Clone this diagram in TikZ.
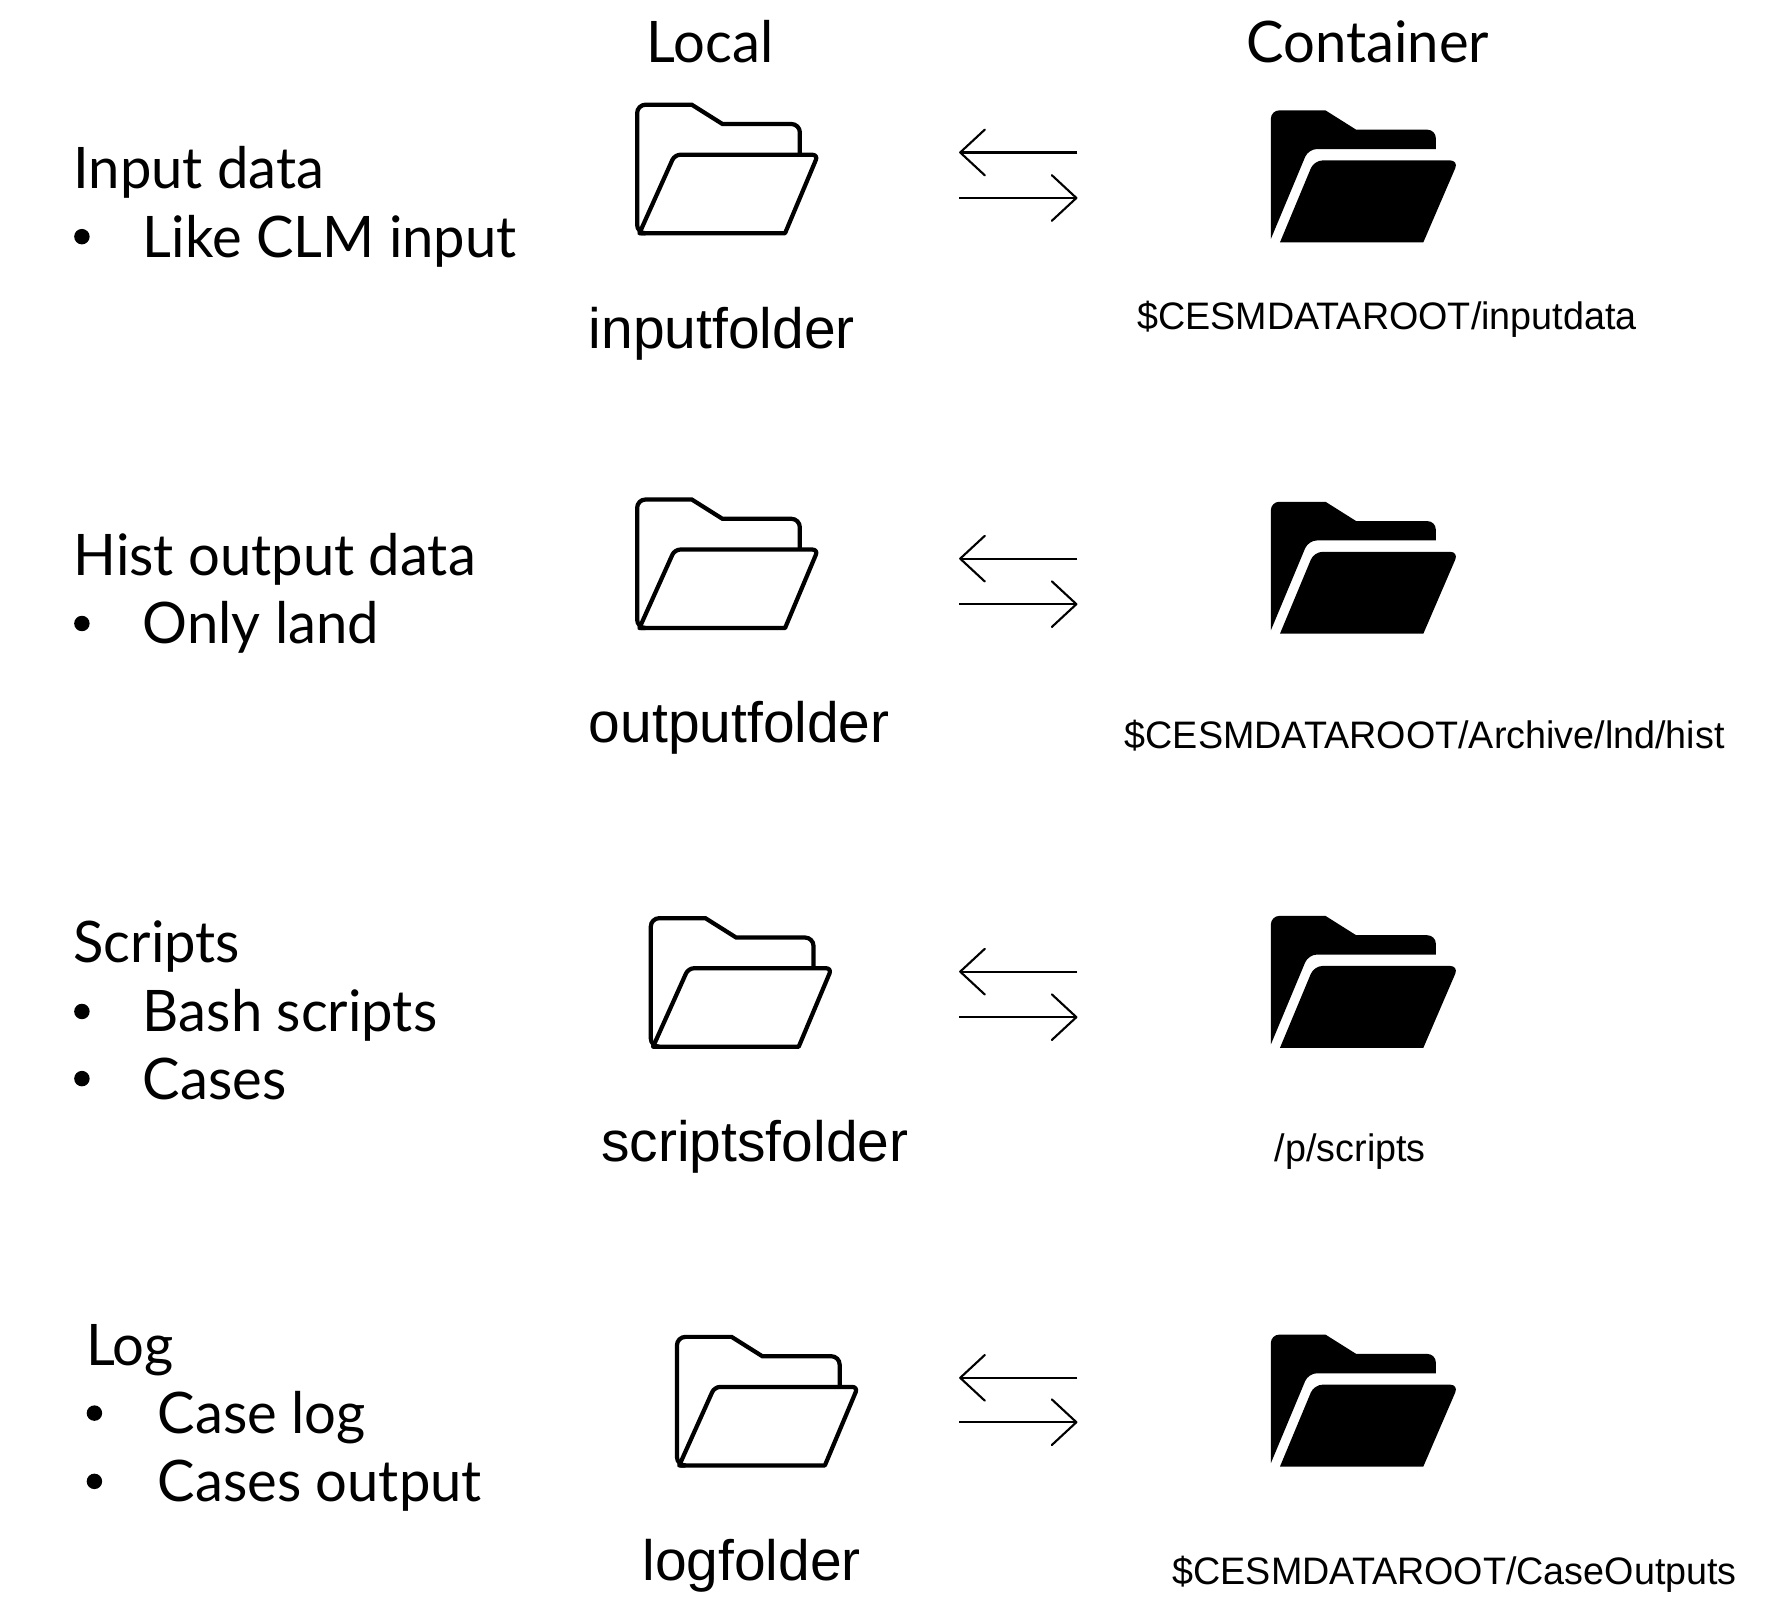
\documentclass[tikz,border=0pt]{standalone}
\usepackage{fontspec}
\setmainfont{Liberation Sans}
\newfontfamily\pathfont[FakeStretch=0.984]{Liberation Sans}
\newfontfamily\listfont[FakeStretch=0.98]{Lato}
\usetikzlibrary{arrows.meta}
\tikzset{
    heading/.style={anchor=base west,inner sep=0pt,font=\listfont\fontsize{16.3}{18}\selectfont},
    itemtext/.style={anchor=base west,inner sep=0pt,font=\listfont\fontsize{16.3}{18}\selectfont},
    dotmark/.style={anchor=center,circle,fill=black,inner sep=0pt,minimum size=4.4pt},
    localname/.style={anchor=base west,inner sep=0pt,font=\fontsize{16.2}{18}\selectfont},
    mountname/.style={anchor=base west,inner sep=0pt,font=\pathfont\fontsize{10.9}{13}\selectfont},
    syncline/.style={line width=0.6pt,-{Straight Barb[length=7pt,width=13pt,round]}},
    openfolder/.pic={
        \draw [line width=1.2pt] (143,44) [rounded corners=2.4pt] -- (143,17) [sharp corners] -- (75,17) -- (48,0) [rounded corners=2.4pt] -- (0,0) -- (0,113) [sharp corners] -- (3,113);
        \draw [line width=1.2pt,line join=round] (2,113) [rounded corners=1.6pt] -- (33,44) -- (159,44) [sharp corners] -- (130,113) -- cycle;
    },
    solidfolder/.pic={
        \fill (145,34) [rounded corners=2.4pt] -- (145,17) [sharp corners] -- (75,17) -- (48,0) [rounded corners=2.4pt] -- (0,0) [sharp corners] -- (0,113) [rounded corners=2.4pt] -- (33,34) [sharp corners] -- cycle;
        \fill (8,116) [rounded corners=2.4pt] -- (38,44) -- (165,44) [sharp corners] -- (134,116) -- cycle;
    }
}
\begin{document}
\begin{tikzpicture}[x=0.11378mm,y=-0.11378mm]
    \useasboundingbox (0,0) rectangle (1568,1418.5);
    % column titles
    \node [heading] (localtitle) at (568,55) {Local};
    \node [heading] (containertitle) at (1095,55) {Container};
    % input row
    \node [heading] (inputhead) at (64,166) {Input data};
    \node [dotmark] (inputdot) at (72,208) {};
    \node [itemtext] (inputitem) at (125,226) {Like CLM input};
    \pic (inputlocal) at (560,92) {openfolder};
    \pic (inputmount) at (1117,97) {solidfolder};
    \node [localname] (inputname) at (517,306) {inputfolder};
    \node [mountname] (inputpath) at (999,290) {\$CESMDATAROOT/inputdata};
    \coordinate (inputR) at (947,134);
    \coordinate (inputL) at (843,134);
    \coordinate (inputS) at (843,174);
    \coordinate (inputT) at (947,174);
    \draw [syncline] (inputR) -- (inputL);
    \draw [syncline] (inputS) -- (inputT);
    % output row
    \node [heading] (outputhead) at (64,506) {Hist output data};
    \node [dotmark] (outputdot) at (72,548) {};
    \node [itemtext] (outputitem) at (125,566) {Only land};
    \pic (outputlocal) at (560,439) {openfolder};
    \pic (outputmount) at (1117,441) {solidfolder};
    \node [localname] (outputname) at (517,653) {outputfolder};
    \node [mountname] (outputpath) at (988,658) {\$CESMDATAROOT/Archive/lnd/hist};
    \coordinate (outputR) at (947,491);
    \coordinate (outputL) at (843,491);
    \coordinate (outputS) at (843,531);
    \coordinate (outputT) at (947,531);
    \draw [syncline] (outputR) -- (outputL);
    \draw [syncline] (outputS) -- (outputT);
    % scripts row
    \node [heading] (scriptshead) at (64,846) {Scripts};
    \node [dotmark] (scriptsdotA) at (72,889) {};
    \node [itemtext] (scriptsitemA) at (125,907) {Bash scripts};
    \node [dotmark] (scriptsdotB) at (72,948) {};
    \node [itemtext] (scriptsitemB) at (125,966) {Cases};
    \pic (scriptslocal) at (572,807) {openfolder};
    \pic (scriptsmount) at (1117,805) {solidfolder};
    \node [localname] (scriptsname) at (528,1021) {scriptsfolder};
    \node [mountname] (scriptspath) at (1120,1021) {/p/scripts};
    \coordinate (scriptsR) at (947,854);
    \coordinate (scriptsL) at (843,854);
    \coordinate (scriptsS) at (843,894);
    \coordinate (scriptsT) at (947,894);
    \draw [syncline] (scriptsR) -- (scriptsL);
    \draw [syncline] (scriptsS) -- (scriptsT);
    % log row
    \node [heading] (loghead) at (75,1200) {Log};
    \node [dotmark] (logdotA) at (83,1242) {};
    \node [itemtext] (logitemA) at (138,1260) {Case log};
    \node [dotmark] (logdotB) at (83,1302) {};
    \node [itemtext] (logitemB) at (138,1320) {Cases output};
    \pic (loglocal) at (595,1175) {openfolder};
    \pic (logmount) at (1117,1173) {solidfolder};
    \node [localname] (logname) at (564,1389) {logfolder};
    \node [mountname] (logpath) at (1030,1393) {\$CESMDATAROOT/CaseOutputs};
    \coordinate (logR) at (947,1211);
    \coordinate (logL) at (843,1211);
    \coordinate (logS) at (843,1250);
    \coordinate (logT) at (947,1250);
    \draw [syncline] (logR) -- (logL);
    \draw [syncline] (logS) -- (logT);
\end{tikzpicture}
\end{document}
